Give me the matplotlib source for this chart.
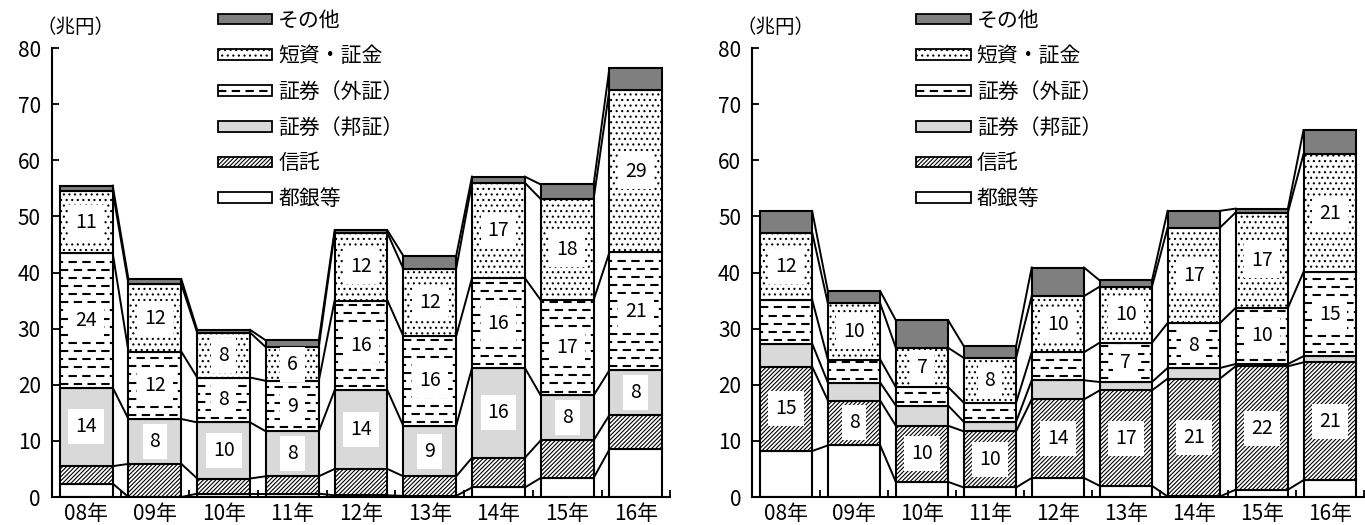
import numpy as np
import matplotlib
matplotlib.use('Agg')
from matplotlib import pyplot as plt
from matplotlib.patches import Patch
from matplotlib.lines import Line2D
from matplotlib.legend_handler import HandlerTuple

plt.rcParams['font.family'] = ['Noto Sans CJK JP', 'DejaVu Sans']
plt.rcParams['hatch.linewidth'] = 0.8

years = ['08年', '09年', '10年', '11年', '12年', '13年', '14年', '15年', '16年']
names = ['都銀等', '信託', '証券（邦証）', '証券（外証）', '短資・証金', 'その他']

# left chart (兆円)
l_toginko = [2.4, 0.0, 0.6, 0.6, 0.3, 0.2, 1.7, 3.4, 8.5]
l_shintaku = [3.1, 5.9, 2.7, 3.1, 4.7, 3.5, 5.3, 6.7, 6.1]
l_housho = [14, 8, 10, 8, 14, 9, 16, 8, 8]
l_gaisho = [24, 12, 8, 9, 16, 16, 16, 17, 21]
l_tanshi = [11, 12, 8, 6, 12, 12, 17, 18, 29]
l_other = [1.0, 0.9, 0.5, 1.2, 0.5, 2.3, 1.1, 2.6, 3.8]

# right chart (兆円)
r_toginko = [8.2, 9.2, 2.7, 1.7, 3.4, 2.0, 0.1, 1.3, 3.0]
r_shintaku = [15, 8, 10, 10, 14, 17, 21, 22, 21]
r_housho = [4.1, 3.2, 3.6, 1.7, 3.4, 1.5, 1.9, 0.4, 1.1]
r_gaisho = [7.8, 4.1, 3.3, 3.4, 5.0, 7, 8, 10, 15]
r_tanshi = [12, 10, 7, 8, 10, 10, 17, 17, 21]
r_other = [3.8, 2.2, 4.9, 2.1, 5.1, 1.1, 3.0, 0.7, 4.3]

# which bars carry a value label, per series
l_labeled = [[], [], range(9), range(9), range(9), []]
r_labeled = [[], range(9), [], range(5, 9), range(9), []]

faces = ['white', 'white', '#d9d9d9', 'white', 'white', '#7f7f7f']
hatches = [None, '////////', None, None, '...', None]
W = 0.77


def draw_dashes(ax, rect, bottom, height):
    # rows of short dashes inside a bar segment
    x0 = rect.get_x()
    ys = np.arange(bottom + 0.7, bottom + height - 0.3, 1.45)
    for k, y in enumerate(ys):
        ln, = ax.plot([x0, x0 + W], [y, y], color='black', lw=1.5,
                      linestyle=(2.5 if k % 2 else 0, (4, 2.6)), zorder=3)
        ln.set_clip_path(rect)


def draw_panel(ax, data, labeled):
    x = np.arange(len(years))
    bottom = np.zeros(len(years))
    tops = []
    for s, vals in enumerate(data):
        vals = np.array(vals, dtype=float)
        bars = ax.bar(x, vals, W, bottom=bottom, color=faces[s], hatch=hatches[s],
                      edgecolor='black', linewidth=1.5, zorder=2)
        if s == 3:
            for rect, b, v in zip(bars, bottom, vals):
                draw_dashes(ax, rect, b, v)
        for i in labeled[s]:
            ax.text(x[i], bottom[i] + vals[i] / 2, f'{vals[i]:.0f}', ha='center',
                    va='center', fontsize=14, zorder=5,
                    bbox=dict(facecolor='white', edgecolor='none', pad=5))
        bottom = bottom + vals
        tops.append(bottom.copy())

    # lines joining the same boundary of neighbouring bars
    for t in tops:
        for i in range(len(years) - 1):
            ax.plot([x[i] + W / 2, x[i + 1] - W / 2], [t[i], t[i + 1]],
                    color='black', lw=1.4, zorder=4)

    ax.set_xlim(-0.5, len(years) - 0.5)
    ax.set_ylim(0, 80)
    ax.set_yticks(range(0, 81, 10))
    ax.set_xticks(x)
    ax.set_xticklabels(years)
    ax.set_xticks(np.arange(-0.5, len(years), 1), minor=True)
    ax.tick_params(axis='x', which='major', length=0, labelsize=15, pad=4)
    ax.tick_params(axis='x', which='minor', direction='in', length=5, width=1.3)
    ax.tick_params(axis='y', direction='in', length=5, width=1.3, labelsize=15, pad=8)
    for side in ['top', 'right']:
        ax.spines[side].set_visible(False)
    for side in ['left', 'bottom']:
        ax.spines[side].set_linewidth(1.5)
    ax.text(-0.025, 1.045, '（兆円）', transform=ax.transAxes, fontsize=14,
            ha='left', va='center')

    handles = []
    for s in range(len(names)):
        p = Patch(facecolor=faces[s], hatch=hatches[s], edgecolor='black', linewidth=1.3)
        if s == 3:
            handles.append((p, Line2D([], [], color='black', lw=1.5, linestyle=(0, (4, 2.6)))))
        else:
            handles.append(p)
    ax.legend(handles[::-1], names[::-1], loc='upper left', bbox_to_anchor=(0.255, 1.105),
              frameon=False, fontsize=15, handlelength=2.6, handleheight=0.42,
              handletextpad=0.3, labelspacing=0.66, borderaxespad=0,
              handler_map={tuple: HandlerTuple(ndivide=1)})


fig = plt.figure(figsize=(13.65, 5.25), dpi=100)
ax1 = fig.add_axes([0.038, 0.0533, 0.453, 0.855])
ax2 = fig.add_axes([0.551, 0.0533, 0.448, 0.855])

draw_panel(ax1, [l_toginko, l_shintaku, l_housho, l_gaisho, l_tanshi, l_other], l_labeled)
draw_panel(ax2, [r_toginko, r_shintaku, r_housho, r_gaisho, r_tanshi, r_other], r_labeled)

fig.savefig('out.png', dpi=100)
